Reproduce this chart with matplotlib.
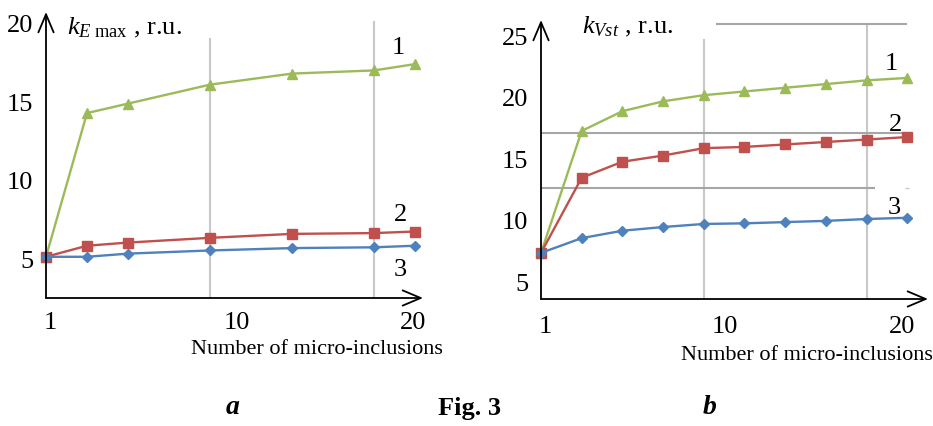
import matplotlib
matplotlib.use("Agg")
import matplotlib.pyplot as plt

plt.rcParams['font.family'] = ['Liberation Serif', 'DejaVu Serif']
plt.rcParams['mathtext.fontset'] = 'custom'
plt.rcParams['mathtext.rm'] = 'Liberation Serif'
plt.rcParams['mathtext.it'] = 'Liberation Serif:italic'

# ---- data (x = point position along the category axis) ----
pos_a = [0, 1, 2, 4, 6, 8, 9]
a_s1 = [5.2, 14.3, 14.9, 16.1, 16.8, 17.0, 17.4]
a_s2 = [5.2, 5.9, 6.1, 6.4, 6.65, 6.7, 6.8]
a_s3 = [5.2, 5.2, 5.4, 5.6, 5.75, 5.8, 5.9]

pos_b = [0, 1, 2, 3, 4, 5, 6, 7, 8, 9]
b_s1 = [7.4, 17.3, 18.9, 19.7, 20.2, 20.5, 20.8, 21.1, 21.4, 21.6]
b_s2 = [7.4, 13.5, 14.8, 15.3, 15.9, 16.0, 16.2, 16.4, 16.6, 16.8]
b_s3 = [7.4, 8.6, 9.2, 9.5, 9.75, 9.8, 9.9, 10.0, 10.15, 10.25]

yticks_a = [5, 10, 15, 20]
yticks_b = [5, 10, 15, 20, 25]
xtick_labels = ['1', '10', '20']
xtick_pos_a = [0.1, 4.66, 8.95]
xtick_pos_b = [0.1, 4.52, 8.87]
curve_names = ['1', '2', '3']

GREEN = '#9bbb59'
RED = '#c0504d'
BLUE = '#4f81bd'

W, H = 933, 426
fig = plt.figure(figsize=(W / 100, H / 100), dpi=100)


def add_ax(l, r, t, b):
    return fig.add_axes([l / W, (H - b) / H, (r - l) / W, (b - t) / H])


def style(ax, xlim, ylim, yticks, xpos, pad_x):
    ax.set_xlim(*xlim)
    ax.set_ylim(*ylim)
    for s in ax.spines.values():
        s.set_visible(False)
    ax.set_yticks(yticks)
    ax.set_yticklabels([str(v) for v in yticks])
    ax.set_xticks(xpos)
    ax.set_xticklabels(xtick_labels)
    ax.tick_params(axis='y', length=0, pad=9, labelsize=19)
    ax.tick_params(axis='x', length=0, pad=pad_x, labelsize=19)
    ap = dict(arrowstyle='->,head_length=1.3,head_width=0.55', lw=1.3,
              color='black', shrinkA=0, shrinkB=0)
    ax.annotate('', xy=(1, 0), xytext=(0, 0), xycoords='axes fraction',
                textcoords='axes fraction', arrowprops=ap, zorder=6)
    ax.annotate('', xy=(0, 1), xytext=(0, 0), xycoords='axes fraction',
                textcoords='axes fraction', arrowprops=ap, zorder=6)


def series(ax, x, ys):
    ax.plot(x, ys[0], color=GREEN, lw=1.7, marker='^', ms=7, zorder=4, clip_on=False)
    ax.plot(x, ys[1], color=RED, lw=1.7, marker='s', ms=6.5, zorder=4, clip_on=False)
    ax.plot(x, ys[2], color=BLUE, lw=1.7, marker='D', ms=5, zorder=4, clip_on=False)


# ---- panel a ----
axa = add_ax(46, 423, 12, 298)
style(axa, (0, 9.195), (2.59, 20.7), yticks_a, xtick_pos_a, 10)
axa.axvline(4, ymin=0, ymax=0.906, color='#c8c8c8', lw=1.5, zorder=1)
axa.axvline(8, ymin=0, ymax=0.965, color='#c8c8c8', lw=1.5, zorder=1)
series(axa, pos_a, [a_s1, a_s2, a_s3])
for name, (xx, yy) in zip(curve_names, [(8.6, 18.4), (8.65, 7.85), (8.65, 4.35)]):
    axa.text(xx, yy, name, fontsize=19, ha='center', va='center')
axa.text(0.5, 19.7, r'$k_{E\ \mathrm{max}}$ , r.u.', fontsize=19,
         ha='left', va='center')

# ---- panel b ----
axb = add_ax(541, 928, 20, 299)
style(axb, (0, 9.51), (3.66, 26.3), yticks_b, xtick_pos_b, 12)
axb.axvline(4, ymin=0, ymax=0.928, color='#c8c8c8', lw=1.5, zorder=1)
axb.axvline(8, ymin=0, ymax=0.986, color='#c8c8c8', lw=1.5, zorder=1)
axb.hlines(26.0, 4.3, 9.0, color='#a6a6a6', lw=1.5, zorder=1)
axb.hlines(17.15, 0, 9.0, color='#a6a6a6', lw=1.5, zorder=1)
axb.hlines(12.7, 0, 8.2, color='#a6a6a6', lw=1.5, zorder=1)
axb.hlines(12.7, 8.95, 9.05, color='#c8c8c8', lw=1.0, zorder=1)
series(axb, pos_b, [b_s1, b_s2, b_s3])
for name, (xx, yy) in zip(curve_names, [(8.6, 22.7), (8.7, 17.75), (8.68, 11.05)]):
    axb.text(xx, yy, name, fontsize=19, ha='center', va='center')
axb.text(1.0, 25.7, r'$k_{Vst}$ , r.u.', fontsize=19, ha='left', va='center')

# ---- captions ----
fig.text(317 / W, 1 - 350 / H, 'Number of micro-inclusions', fontsize=16,
         ha='center', va='center')
fig.text(807 / W, 1 - 355 / H, 'Number of micro-inclusions', fontsize=16,
         ha='center', va='center')
fig.text(233 / W, 1 - 408 / H, 'a', fontsize=20, fontweight='bold',
         fontstyle='italic', ha='center', va='center')
fig.text(470 / W, 1 - 408 / H, 'Fig. 3', fontsize=19, fontweight='bold',
         ha='center', va='center')
fig.text(710 / W, 1 - 408 / H, 'b', fontsize=20, fontweight='bold',
         fontstyle='italic', ha='center', va='center')

fig.savefig('out.png', dpi=100)
